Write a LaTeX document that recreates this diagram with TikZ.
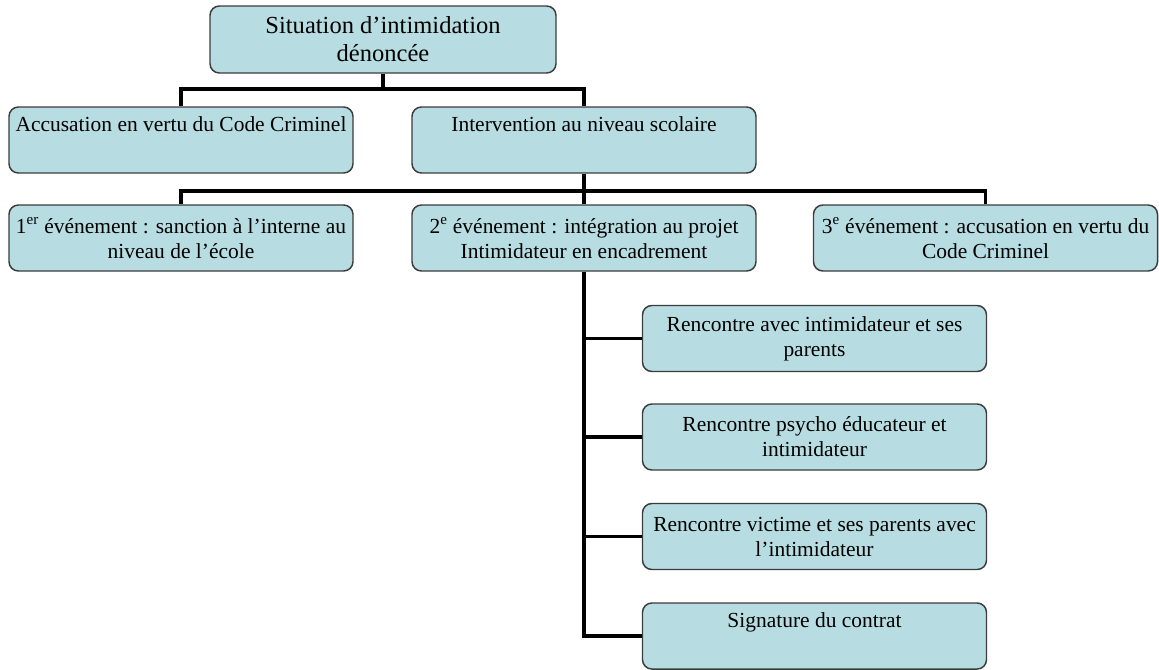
\documentclass[tikz,border=0pt]{standalone}
\usepackage{fontspec}
\setmainfont{Liberation Serif}
\usepackage{tikz}
\definecolor{boxfill}{HTML}{B7DDE2}
\definecolor{boxline}{HTML}{3C3C3C}
\tikzset{>=stealth}
\tikzset{box/.style={draw=boxline, fill=boxfill, line width=1.1pt, rounded corners=7pt, align=center, inner sep=0pt,
  minimum width=258pt, minimum height=49.5pt, font=\fontsize{16.1}{18.75}\selectfont},
  bigbox/.style={box, minimum width=259.5pt, minimum height=50.25pt, font=\fontsize{18.4}{21}\selectfont},
  link/.style={line width=2.3pt}}

\begin{document}
\begin{tikzpicture}[x=0.75pt,y=-0.75pt]
\useasboundingbox (0,0) rectangle (1159,669);
\node[bigbox] (top) at (383,39.5) {Situation d’intimidation\\dénoncée};
\node[box] (accu) at (181,140) {Accusation en vertu du Code Criminel\\ \strut};
\node[box] (interv) at (584,140) {Intervention au niveau scolaire\\ \strut};
\node[box] (ev1) at (181,238) {1\textsuperscript{er} événement : sanction à l’interne au\\niveau de l’école};
\node[box] (ev2) at (584,238) {2\textsuperscript{e} événement : intégration au projet\\Intimidateur en encadrement};
\node[box] (ev3) at (985.5,238) {3\textsuperscript{e} événement : accusation en vertu du\\Code Criminel};
\node[box] (sub1) at (814.5,338.5) {Rencontre avec intimidateur et ses\\parents};
\node[box] (sub2) at (814.5,437) {Rencontre psycho éducateur et\\intimidateur};
\node[box] (sub3) at (814.5,536.5) {Rencontre victime et ses parents avec\\l’intimidateur};
\node[box] (sub4) at (814.5,636) {Signature du contrat\\ \strut};
\coordinate (j1) at (383,89);
\coordinate (j2) at (584,191);
\draw[link] (top.south) -- (j1) -| (accu.north);
\draw[link] (j1) -| (interv.north);
\draw[link] (interv.south) -- (j2) -| (ev1.north);
\draw[link] (j2) -| (ev3.north);
\draw[link] (j2) -- (ev2.north);
\foreach \s in {sub1,sub2,sub3,sub4}
  \draw[link] (ev2.south) |- (\s.west);
\end{tikzpicture}
\end{document}
